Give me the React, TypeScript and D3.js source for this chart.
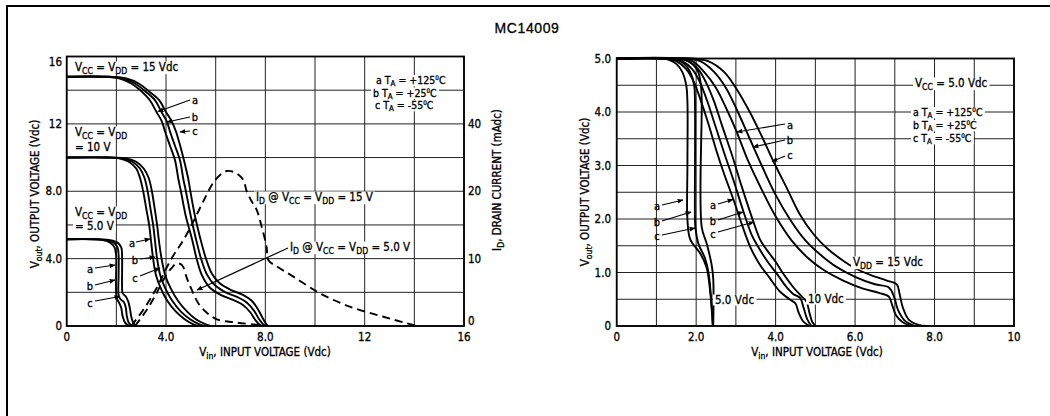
import React, { useEffect, useRef } from "react"
import * as d3 from "d3"

type Pt = [number, number]
type Seg = [string, number?]

// ---- left panel: Vout vs Vin at VDD = 5, 10, 15 V (a = +125C, b = +25C, c = -55C)
const leftXTicks = [0, 4, 8, 12, 16]
const leftXLabels = ["0", "4.0", "8.0", "12", "16"]
const leftYTicks = [0, 4, 8, 12, 16]
const leftYLabels = ["0", "4.0", "8.0", "12", "16"]
const idTickPos = [0, 4, 8, 12]
const idTickLabels = ["0", "10", "20", "40"]

const left15a: Pt[] = [[0, 14.8], [1.5, 14.8], [2.1, 14.7], [2.6, 14.4], [3.0, 13.95], [3.35, 13.4], [3.6, 12.75], [3.83, 12.15], [3.96, 11.55], [4.16, 10.7], [4.36, 9.85], [4.5, 8.7], [4.6, 8], [4.8, 6.5], [5.04, 5.2], [5.24, 3.95], [5.45, 3.0], [5.75, 2.3], [6.2, 1.85], [6.7, 1.55], [7.1, 1.25], [7.4, 0.8], [7.6, 0.35], [7.8, 0.05], [7.9, 0]]
const left15b: Pt[] = [[0, 14.8], [1.6, 14.8], [2.25, 14.7], [2.75, 14.4], [3.15, 13.95], [3.56, 13.4], [3.8, 12.75], [4.03, 12.15], [4.16, 11.55], [4.36, 10.7], [4.56, 9.85], [4.7, 8.7], [4.8, 8], [5.0, 6.5], [5.2, 5.2], [5.42, 3.95], [5.65, 3.05], [5.95, 2.45], [6.4, 2.0], [6.9, 1.7], [7.25, 1.4], [7.55, 0.9], [7.75, 0.4], [7.95, 0.05], [8.05, 0]]
const left15c: Pt[] = [[0, 14.8], [1.7, 14.8], [2.4, 14.7], [2.9, 14.4], [3.3, 13.95], [3.73, 13.4], [3.98, 12.75], [4.23, 12.15], [4.4, 11.55], [4.57, 10.7], [4.72, 9.85], [4.9, 8.7], [4.98, 8], [5.17, 6.5], [5.38, 5.2], [5.62, 3.95], [5.85, 3.1], [6.15, 2.55], [6.6, 2.15], [7.1, 1.85], [7.45, 1.5], [7.7, 1.0], [7.9, 0.45], [8.05, 0.08], [8.1, 0]]

const left10a: Pt[] = [[0, 10], [1.6, 10], [2.1, 9.95], [2.5, 9.75], [2.8, 9.35], [2.95, 8.8], [3.08, 8], [3.2, 7], [3.32, 6], [3.4, 5], [3.48, 4], [3.6, 3], [3.8, 2.2], [4.05, 1.5], [4.4, 0.85], [4.75, 0.4], [5.1, 0.1], [5.3, 0]]
const left10b: Pt[] = [[0, 10], [1.7, 10], [2.25, 9.95], [2.65, 9.75], [2.95, 9.35], [3.13, 8.8], [3.26, 8], [3.37, 7], [3.48, 6], [3.56, 5], [3.64, 4], [3.77, 3], [3.98, 2.2], [4.25, 1.5], [4.6, 0.85], [4.97, 0.4], [5.35, 0.1], [5.55, 0]]
const left10c: Pt[] = [[0, 10], [1.8, 10], [2.4, 9.95], [2.8, 9.75], [3.1, 9.35], [3.3, 8.8], [3.43, 8], [3.54, 7], [3.64, 6], [3.72, 5], [3.82, 4], [3.97, 3], [4.2, 2.2], [4.48, 1.5], [4.85, 0.85], [5.2, 0.4], [5.6, 0.1], [5.8, 0]]

const left5a: Pt[] = [[0, 5.15], [1.0, 5.15], [1.45, 5.1], [1.75, 4.95], [1.93, 4.65], [1.99, 4.2], [1.99, 3], [1.99, 2.0], [2.03, 1.6], [2.12, 1.35], [2.2, 1.05], [2.25, 0.6], [2.35, 0.2], [2.5, 0.02], [2.6, 0]]
const left5b: Pt[] = [[0, 5.15], [1.15, 5.15], [1.6, 5.1], [1.9, 4.95], [2.05, 4.65], [2.09, 4.2], [2.09, 3], [2.09, 1.85], [2.16, 1.6], [2.3, 1.42], [2.38, 1.1], [2.42, 0.6], [2.5, 0.2], [2.62, 0.02], [2.7, 0]]
const left5c: Pt[] = [[0, 5.15], [1.3, 5.15], [1.75, 5.1], [2.05, 4.95], [2.2, 4.65], [2.23, 4.2], [2.23, 2.3], [2.25, 1.95], [2.38, 1.75], [2.48, 1.45], [2.55, 1.0], [2.6, 0.55], [2.68, 0.2], [2.78, 0.02], [2.85, 0]]

// drain current (dashed), plotted in Vout units of the left axis
const id15: Pt[] = [[2.6, 0], [3.1, 1.0], [3.6, 2.2], [4.2, 3.95], [4.7, 5.1], [5.1, 6.2], [5.5, 7.4], [5.9, 8.5], [6.2, 9.0], [6.45, 9.2], [6.8, 9.1], [7.1, 8.7], [7.25, 8.0], [7.45, 7.4], [7.65, 6.9], [7.85, 5.9], [8.05, 4.7], [8.12, 3.92], [8.5, 3.5], [9.13, 2.93], [10.2, 1.94], [11.4, 1.15], [12.75, 0.55], [13.6, 0.2], [14.1, 0]]
const id5: Pt[] = [[2.75, 0], [3.2, 0.9], [3.6, 1.9], [3.9, 2.75], [4.2, 3.4], [4.45, 3.72], [4.65, 3.6], [4.85, 2.8], [5.05, 2.1], [5.3, 1.35], [5.6, 0.85], [6.05, 0.4], [6.85, 0.2], [7.8, 0.05], [8.0, 0]]

// ---- right panel: Vout vs Vin, VCC = 5.0 Vdc, VDD = 5, 10, 15 Vdc
const rightXTicks = [0, 2, 4, 6, 8, 10]
const rightXLabels = ["0", "2.0", "4.0", "6.0", "8.0", "10"]
const rightYTicks = [0, 1, 2, 3, 4, 5]
const rightYLabels = ["0", "1.0", "2.0", "3.0", "4.0", "5.0"]

const right5a: Pt[] = [[0, 5], [1.0, 5], [1.3, 4.98], [1.5, 4.9], [1.65, 4.75], [1.75, 4.5], [1.78, 4.2], [1.78, 3], [1.78, 2.0], [1.85, 1.62], [2.1, 1.36], [2.26, 1.1], [2.35, 0.67], [2.42, 0]]
const right5b: Pt[] = [[0, 5], [1.2, 5], [1.5, 4.98], [1.7, 4.9], [1.85, 4.75], [1.95, 4.5], [1.97, 4.2], [1.97, 2], [1.98, 1.85], [2.06, 1.53], [2.22, 1.27], [2.31, 1.0], [2.39, 0.37], [2.42, 0]]
const right5c: Pt[] = [[0, 5], [1.4, 5], [1.7, 4.98], [1.9, 4.9], [2.05, 4.75], [2.12, 4.5], [2.14, 4.2], [2.14, 1.85], [2.27, 1.53], [2.39, 1.14], [2.43, 0.88], [2.43, 0]]

const right10a: Pt[] = [[0, 5], [1.2, 5], [1.5, 4.95], [1.75, 4.8], [1.95, 4.55], [2.1, 4.25], [2.3, 3.8], [2.5, 3.3], [2.7, 2.85], [2.94, 2.36], [3.15, 1.9], [3.36, 1.48], [3.6, 1.15], [3.85, 0.9], [4.1, 0.65], [4.35, 0.5], [4.5, 0.42], [4.58, 0.25], [4.7, 0.08], [4.85, 0]]
const right10b: Pt[] = [[0, 5], [1.35, 5], [1.65, 4.95], [1.9, 4.8], [2.1, 4.55], [2.28, 4.2], [2.5, 3.7], [2.72, 3.2], [2.95, 2.7], [3.19, 2.14], [3.4, 1.7], [3.56, 1.48], [3.8, 1.2], [4.03, 0.98], [4.25, 0.75], [4.44, 0.6], [4.62, 0.52], [4.7, 0.35], [4.8, 0.12], [4.9, 0]]
const right10c: Pt[] = [[0, 5], [1.5, 5], [1.8, 4.95], [2.05, 4.8], [2.25, 4.55], [2.45, 4.2], [2.65, 3.75], [2.9, 3.2], [3.15, 2.6], [3.44, 1.95], [3.62, 1.6], [3.8, 1.4], [4.0, 1.2], [4.19, 0.98], [4.45, 0.72], [4.66, 0.55], [4.78, 0.45], [4.85, 0.25], [4.92, 0.08], [5.0, 0]]

const right15a: Pt[] = [[0, 5], [1.5, 5], [1.9, 4.95], [2.2, 4.75], [2.5, 4.45], [2.8, 4.0], [3.02, 3.63], [3.3, 3.1], [3.65, 2.55], [4.0, 2.05], [4.4, 1.6], [4.8, 1.28], [5.2, 1.05], [5.7, 0.85], [6.2, 0.7], [6.6, 0.62], [6.85, 0.55], [6.93, 0.4], [7.03, 0.2], [7.2, 0.07], [7.4, 0]]
const right15b: Pt[] = [[0, 5], [1.7, 5], [2.1, 4.95], [2.45, 4.75], [2.75, 4.45], [3.05, 4.0], [3.35, 3.5], [3.65, 3.0], [4.0, 2.45], [4.4, 1.95], [4.75, 1.6], [5.1, 1.35], [5.5, 1.12], [6.0, 0.92], [6.5, 0.78], [6.85, 0.72], [6.98, 0.55], [7.08, 0.3], [7.25, 0.1], [7.5, 0]]
const right15c: Pt[] = [[0, 5], [1.9, 5], [2.3, 4.95], [2.7, 4.75], [3.0, 4.45], [3.35, 4.0], [3.65, 3.55], [3.95, 3.07], [4.3, 2.55], [4.6, 2.1], [4.95, 1.72], [5.3, 1.45], [5.7, 1.22], [6.0, 1.08], [6.4, 0.95], [6.8, 0.85], [7.05, 0.78], [7.12, 0.6], [7.2, 0.35], [7.35, 0.12], [7.6, 0.02], [7.8, 0]]

const FONT = "'Liberation Sans Narrow', 'DejaVu Sans Condensed', 'Arial Narrow', sans-serif"

const lx = d3.scaleLinear().domain([0, 16]).range([66.7, 464])
const ly = d3.scaleLinear().domain([0, 16]).range([326, 56.5])
const rx = d3.scaleLinear().domain([0, 10]).range([616.7, 1014])
const ry = d3.scaleLinear().domain([0, 5]).range([326, 58.5])

const smooth = d3.curveCatmullRom.alpha(0.5)

function Rich({ x, y, segs, size = 11, anchor = "start", bg = false, transform }: any) {
  let shift = 0
  const kids = segs.map(([t, m]: Seg, i: number) => {
    const target = m === 1 ? size * 0.32 : m === 2 ? -size * 0.28 : 0
    const dy = target - shift
    shift = target
    const fs = m === 1 ? size * 0.75 : m === 2 ? size * 0.6 : size
    return (
      <tspan key={i} dy={dy ? dy : undefined} fontSize={fs}>{t}</tspan>
    )
  })
  return (
    <text x={x} y={y} fontSize={size} textAnchor={anchor} dominantBaseline="central"
      className={bg ? "bg" : undefined} transform={transform} style={{ whiteSpace: "pre" }}>
      {kids}
    </text>
  )
}

function Panel({ x, y, xs, ys, xStep, yStep, curves, dashed }: any) {
  const line = d3.line<Pt>().x(d => x(d[0])).y(d => y(d[1])).curve(smooth)
  const [x0, x1] = x.range()
  const [y0, y1] = y.range()
  const vx = d3.range(xs[0], xs[1] + 1e-6, xStep)
  const hy = d3.range(ys[0], ys[1] + 1e-6, yStep)
  return (
    <g>
      {vx.map((v: number) => (
        <line key={"v" + v} x1={x(v)} x2={x(v)} y1={y0} y2={y1} stroke="#222" strokeWidth={1} />
      ))}
      {hy.map((v: number) => (
        <line key={"h" + v} x1={x0} x2={x1} y1={y(v)} y2={y(v)} stroke="#222" strokeWidth={1} />
      ))}
      <rect x={x0} y={y1} width={x1 - x0} height={y0 - y1} fill="none" stroke="#000" strokeWidth={1.8} />
      {curves.map((c: Pt[], i: number) => (
        <path key={"c" + i} d={line(c) || ""} fill="none" stroke="#000" strokeWidth={1.9} />
      ))}
      {(dashed || []).map((c: Pt[], i: number) => (
        <path key={"d" + i} d={line(c) || ""} fill="none" stroke="#000" strokeWidth={1.9} strokeDasharray="8,5" />
      ))}
    </g>
  )
}

const V = (s: string, sub: string, rest: string): Seg[] => [[s], [sub, 1], [rest]]
const temp = (l: string, t: string): Seg[] => [[l + " T"], ["A", 1], [" = " + t], ["0", 2], ["C"]]

function Pointer({ lbl, tx, ty, x1, y1, x2, y2 }: any) {
  return (
    <g>
      <text x={tx} y={ty} fontSize={11} textAnchor="middle" dominantBaseline="central">{lbl}</text>
      <line x1={x1} y1={y1} x2={x2} y2={y2} stroke="#000" strokeWidth={1.2} markerEnd="url(#ah)" />
    </g>
  )
}

export default function App() {
  const ref = useRef<SVGSVGElement>(null)

  // white boxes behind the in-plot notes, so the grid stops at the text
  useEffect(() => {
    const svg = d3.select(ref.current)
    const g = svg.select("g.bgs")
    g.selectAll("*").remove()
    svg.selectAll<SVGTextElement, unknown>("text.bg").each(function () {
      const b = this.getBBox()
      g.append("rect")
        .attr("x", b.x - 2).attr("y", b.y + 1.5)
        .attr("width", b.width + 4).attr("height", b.height - 3)
        .attr("fill", "#fff")
    })
  }, [])

  return (
    <svg ref={ref} width={1050} height={416} style={{ position: "absolute", left: 0, top: 0, background: "#fff" }}
      fontFamily={FONT} fill="#000" stroke="none">
      <defs>
        <marker id="ah" viewBox="0 0 10 10" refX="9" refY="5" markerWidth="5" markerHeight="5" orient="auto">
          <path d="M0,1 L10,5 L0,9 z" fill="#000" />
        </marker>
      </defs>
      <rect width={1050} height={416} fill="#fff" />
      <path d="M7,416 V6 H1050" fill="none" stroke="#000" strokeWidth={2} />

      {/* panels */}
      <Panel x={lx} y={ly} xs={[0, 16]} ys={[0, 16]} xStep={2} yStep={2}
        curves={[left15a, left15b, left15c, left10a, left10b, left10c, left5a, left5b, left5c]}
        dashed={[id15, id5]} />
      <Panel x={rx} y={ry} xs={[0, 10]} ys={[0, 5]} xStep={1} yStep={0.5}
        curves={[right5a, right5b, right5c, right10a, right10b, right10c, right15a, right15b, right15c]} />
      <g className="bgs" />

      <g stroke="#000" strokeWidth={0.3}>
        <text x={527} y={28} fontSize={14} textAnchor="middle" dominantBaseline="central"
          fontFamily="'Liberation Sans', Arial, sans-serif" letterSpacing={0.6}>MC14009</text>

        {/* left axes */}
        {leftXTicks.map((t, i) => (
          <text key={"lx" + t} x={lx(t)} y={337} fontSize={11.5} textAnchor="middle" dominantBaseline="central">{leftXLabels[i]}</text>
        ))}
        {leftYTicks.map((t, i) => (
          <text key={"ly" + t} x={62} y={ly(t) + (t === 16 ? 5 : 0)} fontSize={11.5} textAnchor="end" dominantBaseline="central">{leftYLabels[i]}</text>
        ))}
        {idTickPos.map((t, i) => (
          <text key={"id" + t} x={468} y={ly(t) - (t === 0 ? 5 : 0)} fontSize={11.5} textAnchor="start" dominantBaseline="central">{idTickLabels[i]}</text>
        ))}
        <Rich x={265} y={352} size={11.5} anchor="middle" segs={[["V"], ["in", 1], [", INPUT VOLTAGE (Vdc)"]]} />
        <Rich x={0} y={0} size={11.5} anchor="middle" transform="translate(35,194) rotate(-90)" segs={[["V"], ["out", 1], [", OUTPUT VOLTAGE (Vdc)"]]} />
        <Rich x={0} y={0} size={11.5} anchor="middle" transform="translate(497,180) rotate(-90)" segs={[["I"], ["D", 1], [", DRAIN CURRENT (mAdc)"]]} />

        <Rich bg x={75} y={67} size={11.5} segs={[...V("V", "CC", " = V"), ["DD", 1], [" = 15 Vdc"]]} />
        <Rich bg x={75} y={132} size={11.5} segs={[...V("V", "CC", " = V"), ["DD", 1]]} />
        <Rich bg x={75} y={147} size={11.5} segs={[["= 10 V"]]} />
        <Rich bg x={75} y={212} size={11.5} segs={[...V("V", "CC", " = V"), ["DD", 1]]} />
        <Rich bg x={75} y={226} size={11.5} segs={[["= 5.0 V"]]} />
        <Rich bg x={376} y={80} size={10.5} segs={temp("a", "+125")} />
        <Rich bg x={373} y={92.5} size={10.5} segs={temp("b", "+25")} />
        <Rich bg x={375} y={105} size={10.5} segs={temp("c", "-55")} />
        <Rich bg x={256} y={197} size={11.5} segs={[["I"], ["D", 1], [" @ V"], ["CC", 1], [" = V"], ["DD", 1], [" = 15 V"]]} />
        <Rich bg x={290} y={247} size={11.5} segs={[["I"], ["D", 1], [" @ V"], ["CC", 1], [" = V"], ["DD", 1], [" = 5.0 V"]]} />
        <line x1={288} y1={248} x2={197} y2={290} stroke="#000" strokeWidth={1.2} markerEnd="url(#ah)" />

        <Pointer lbl="a" tx={195} ty={100} x1={190} y1={100} x2={158} y2={111.5} />
        <Pointer lbl="b" tx={195} ty={117} x1={190} y1={117} x2={167} y2={122} />
        <Pointer lbl="c" tx={195} ty={131} x1={190} y1={131} x2={180} y2={132} />
        <Pointer lbl="a" tx={132} ty={243} x1={136} y1={242} x2={150} y2={239} />
        <Pointer lbl="b" tx={135} ty={260} x1={140} y1={259} x2={155} y2={257} />
        <Pointer lbl="c" tx={135} ty={278} x1={140} y1={276} x2={160} y2={268} />
        <Pointer lbl="a" tx={90} ty={269} x1={95} y1={268} x2={115} y2={265} />
        <Pointer lbl="b" tx={90} ty={286} x1={95} y1={285} x2={115} y2={280} />
        <Pointer lbl="c" tx={90} ty={303} x1={95} y1={301} x2={120} y2={296.5} />

        {/* right axes */}
        {rightXTicks.map((t, i) => (
          <text key={"rx" + t} x={rx(t)} y={337} fontSize={11.5} textAnchor="middle" dominantBaseline="central">{rightXLabels[i]}</text>
        ))}
        {rightYTicks.map((t, i) => (
          <text key={"ry" + t} x={611} y={ry(t)} fontSize={11.5} textAnchor="end" dominantBaseline="central">{rightYLabels[i]}</text>
        ))}
        <Rich x={817} y={352} size={11.5} anchor="middle" segs={[["V"], ["in", 1], [", INPUT VOLTAGE (Vdc)"]]} />
        <Rich x={0} y={0} size={11.5} anchor="middle" transform="translate(585,192) rotate(-90)" segs={[["V"], ["out", 1], [", OUTPUT VOLTAGE (Vdc)"]]} />

        <Rich bg x={915} y={83} size={11.5} segs={[["V"], ["CC", 1], [" = 5.0 Vdc"]]} />
        <Rich bg x={913} y={112} size={10.5} segs={temp("a", "+125")} />
        <Rich bg x={913} y={125} size={10.5} segs={temp("b", "+25")} />
        <Rich bg x={913} y={138} size={10.5} segs={temp("c", "-55")} />
        <Rich bg x={853} y={262} size={11.5} segs={[["V"], ["DD", 1], [" = 15 Vdc"]]} />
        <Rich bg x={715} y={300} size={11.5} segs={[["5.0 Vdc"]]} />
        <Rich bg x={808} y={299} size={11.5} segs={[["10 Vdc"]]} />

        <Pointer lbl="a" tx={657} ty={206} x1={662} y1={205} x2={683} y2={200} />
        <Pointer lbl="b" tx={657} ty={222} x1={662} y1={221} x2={691} y2={212} />
        <Pointer lbl="c" tx={657} ty={236} x1={662} y1={235} x2={695} y2={228} />
        <Pointer lbl="a" tx={713} ty={205} x1={718} y1={204} x2={733} y2={199.5} />
        <Pointer lbl="b" tx={713} ty={221} x1={718} y1={220} x2={743} y2={212} />
        <Pointer lbl="c" tx={713} ty={234} x1={718} y1={232} x2={754} y2={222} />
        <Pointer lbl="a" tx={790} ty={125} x1={785} y1={124} x2={737} y2={132} />
        <Pointer lbl="b" tx={790} ty={140} x1={785} y1={140} x2={753} y2={147} />
        <Pointer lbl="c" tx={790} ty={155} x1={785} y1={156} x2={772} y2={161.5} />
      </g>
    </svg>
  )
}
